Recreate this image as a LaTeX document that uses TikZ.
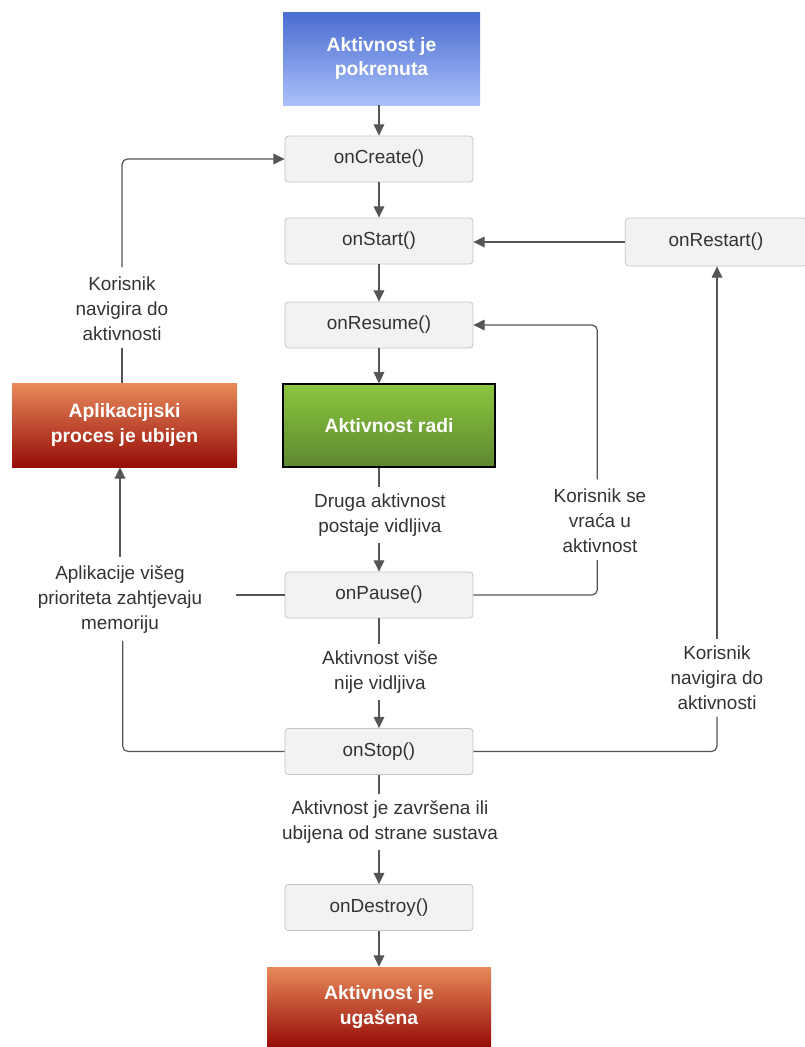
\documentclass[tikz,border=0pt]{standalone}
\usepackage{fontspec}
\setmainfont{Liberation Sans}
\usetikzlibrary{arrows.meta}
\definecolor{boxfill}{HTML}{F2F2F2}
\definecolor{boxline}{HTML}{C4C4C4}
\definecolor{conn}{HTML}{555555}
\definecolor{txt}{HTML}{333333}
\tikzset{
  stepbox/.style={draw=boxline, fill=boxfill, rounded corners=2.5pt, minimum width=141pt, minimum height=34.5pt, text=txt, font=\fontsize{14.2}{16}\selectfont, line width=0.6pt},
  colbox/.style={text=white, font=\bfseries\fontsize{14.5}{18.5}\selectfont, align=center},
  lbl/.style={text=txt, font=\fontsize{14.2}{18.75}\selectfont, align=center, inner sep=1pt},
  conline/.style={draw=conn, line width=0.9pt, rounded corners=4pt},
  arr/.style={conline, -{Triangle[length=8.5pt,width=8pt]}},
}
\begin{document}
\begin{tikzpicture}[x=0.75pt,y=-0.75pt]
\useasboundingbox (0,0) rectangle (805,1047);
% coloured boxes
\node[colbox, minimum width=147.75pt, minimum height=69.75pt, top color={rgb,255:red,74;green,108;blue,208}, bottom color={rgb,255:red,170;green,192;blue,250}] (start) at (381.5,58.5) {Aktivnost je\\pokrenuta};
\node[colbox, minimum width=159pt, minimum height=62.25pt, draw=black, line width=0.8pt, top color={rgb,255:red,138;green,198;blue,62}, bottom color={rgb,255:red,94;green,136;blue,48}] (radi) at (389,425.5) {Aktivnost radi};
\node[colbox, minimum width=168.75pt, minimum height=63pt, top color={rgb,255:red,232;green,138;blue,90}, bottom color={rgb,255:red,150;green,12;blue,8}] (ubijen) at (124.5,425) {Aplikacijiski\\proces je ubijen};
\node[colbox, minimum width=168pt, minimum height=60pt, top color={rgb,255:red,232;green,138;blue,90}, bottom color={rgb,255:red,150;green,12;blue,8}] (ugasena) at (379,1007) {Aktivnost je\\ugašena};
% grey boxes
\node[stepbox] (create) at (379,159) {onCreate()};
\node[stepbox] (startm) at (379,241) {onStart()};
\node[stepbox, minimum width=136pt, minimum height=36pt] (restart) at (716,242) {onRestart()};
\node[stepbox] (resume) at (379,325) {onResume()};
\node[stepbox] (pause) at (379,595) {onPause()};
\node[stepbox] (stop) at (379,751.5) {onStop()};
\node[stepbox] (destroy) at (379,907.5) {onDestroy()};
% labels
\node[lbl] (l1) at (122,309) {Korisnik\\navigira do\\aktivnosti};
\node[lbl] (l2) at (380,515) {Druga aktivnost\\postaje vidljiva};
\node[lbl] (l3) at (600,521) {Korisnik se\\vraća u\\aktivnost};
\node[lbl] (l4) at (120,600) {Aplikacije višeg\\prioriteta zahtjevaju\\memoriju};
\node[lbl] (l5) at (380,672) {Aktivnost više\\nije vidljiva};
\node[lbl] (l6) at (717,678) {Korisnik\\navigira do\\aktivnosti};
\node[lbl] (l7) at (390,822) {Aktivnost je završena ili\\ubijena od strane sustava};
% main chain
\draw[arr] (start.south -| create) -- (create.north);
\draw[arr] (create) -- (startm);
\draw[arr] (startm) -- (resume);
\draw[arr] (resume.south) -- (resume.south |- radi.north);
\draw[conline] (radi.south -| pause) -- ([yshift=4pt]l2.north -| pause);
\draw[arr] ([yshift=-4pt]l2.south -| pause) -- (pause.north);
\draw[conline] (pause.south) -- ([yshift=4pt]l5.north -| pause);
\draw[arr] ([yshift=-4pt]l5.south -| stop) -- (stop.north);
\draw[conline] (stop.south) -- ([yshift=4pt]l7.north -| stop);
\draw[arr] ([yshift=-4pt]l7.south -| destroy) -- (destroy.north);
\draw[arr] (destroy) -- (ugasena);
% restart
\draw[arr] (restart.west) -- (restart.west -| startm.east);
\draw[conline] (stop.east) -| ([yshift=-4pt]l6.south);
\draw[arr] ([yshift=4pt]l6.north) -- (l6.north |- restart.south);
% resume loop
\draw[conline] (pause.east) -| ([xshift=-2pt,yshift=-4pt]l3.south);
\draw[arr] ([xshift=-2pt,yshift=6pt]l3.north) |- (resume.east);
% kill loop
\draw[conline] (pause.west) -- ([xshift=24pt]l4.east |- pause.west);
\draw[conline] (stop.west) -| ([xshift=2pt,yshift=-4pt]l4.south);
\draw[arr] ([yshift=6pt]l4.north) -- (l4.north |- ubijen.south);
\draw[conline] (ubijen.north -| l1) -- ([yshift=-4pt]l1.south);
\draw[arr] ([yshift=6pt]l1.north) |- (create.west);
\end{tikzpicture}
\end{document}
